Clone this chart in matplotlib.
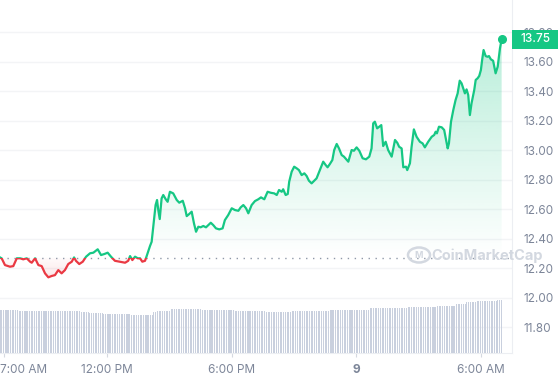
import numpy as np
import matplotlib
matplotlib.use("Agg")
import matplotlib.pyplot as plt
import matplotlib.transforms as mtransforms
from matplotlib.patches import Rectangle, Circle
from matplotlib.path import Path
from matplotlib.colors import to_rgb

plt.rcParams["font.family"] = ["Inter", "DejaVu Sans"]

# --- data: hours since 7:00 AM, price in USD ---
hours = [
    -0.17, -0.09, 0.07, 0.31, 0.47, 0.64, 0.80, 0.95, 1.12, 1.28,
    1.36, 1.52, 1.68, 1.84, 2.00, 2.16, 2.32, 2.48, 2.64, 2.80,
    2.96, 3.12, 3.29, 3.40, 3.49, 3.65, 3.82, 3.98, 4.17, 4.33,
    4.54, 4.70, 4.86, 5.02, 5.18, 5.37, 5.61, 5.86, 6.01, 6.10,
    6.21, 6.34, 6.47, 6.58, 6.69, 6.82, 6.90, 7.06, 7.14, 7.22,
    7.33, 7.40, 7.46, 7.53, 7.62, 7.70, 7.82, 7.91, 8.02, 8.18,
    8.35, 8.47, 8.64, 8.75, 8.83, 8.95, 9.07, 9.18, 9.28, 9.39,
    9.50, 9.63, 9.76, 9.87, 9.99, 10.11, 10.24, 10.40, 10.56, 10.67,
    10.83, 11.00, 11.16, 11.32, 11.43, 11.56, 11.69, 11.80, 11.96, 12.12,
    12.28, 12.41, 12.57, 12.73, 12.89, 13.05, 13.17, 13.28, 13.41, 13.48,
    13.60, 13.70, 13.77, 13.89, 14.01, 14.13, 14.24, 14.37, 14.50, 14.61,
    14.72, 14.85, 14.98, 15.09, 15.25, 15.41, 15.53, 15.62, 15.73, 15.85,
    15.94, 16.06, 16.17, 16.30, 16.41, 16.62, 16.78, 16.89, 17.02, 17.15,
    17.31, 17.47, 17.63, 17.74, 17.82, 17.90, 18.01, 18.11, 18.21, 18.30,
    18.42, 18.54, 18.71, 18.87, 18.98, 19.07, 19.19, 19.27, 19.40, 19.46,
    19.59, 19.67, 19.78, 19.91, 20.07, 20.20, 20.31, 20.47, 20.64, 20.76,
    20.83, 20.89, 20.99, 21.12, 21.24, 21.36, 21.41, 21.47, 21.57, 21.68,
    21.79, 21.89, 21.99, 22.08, 22.16, 22.24, 22.32, 22.40, 22.48, 22.56,
    22.69, 22.76, 22.85, 22.93, 23.01, 23.07, 23.14, 23.24, 23.33, 23.40,
    23.49, 23.60, 23.72, 23.82, 23.93, 24.01,
]
price = [
    12.272, 12.266, 12.220, 12.209, 12.213, 12.266, 12.266, 12.259, 12.266, 12.243,
    12.236, 12.266, 12.220, 12.213, 12.164, 12.137, 12.146, 12.152, 12.186, 12.164,
    12.186, 12.227, 12.243, 12.272, 12.249, 12.227, 12.243, 12.277, 12.300, 12.304,
    12.327, 12.288, 12.295, 12.304, 12.277, 12.249, 12.243, 12.236, 12.249, 12.281,
    12.254, 12.277, 12.266, 12.266, 12.243, 12.249, 12.281, 12.349, 12.378, 12.480,
    12.627, 12.661, 12.593, 12.532, 12.672, 12.695, 12.666, 12.649, 12.717, 12.706,
    12.661, 12.643, 12.656, 12.605, 12.552, 12.566, 12.582, 12.503, 12.446, 12.480,
    12.476, 12.485, 12.476, 12.491, 12.507, 12.491, 12.469, 12.462, 12.469, 12.525,
    12.559, 12.605, 12.593, 12.588, 12.611, 12.627, 12.605, 12.571, 12.627, 12.654,
    12.666, 12.679, 12.666, 12.717, 12.710, 12.706, 12.695, 12.729, 12.717, 12.734,
    12.695, 12.702, 12.785, 12.853, 12.887, 12.876, 12.864, 12.830, 12.842, 12.824,
    12.792, 12.774, 12.792, 12.808, 12.864, 12.921, 12.898, 12.883, 12.905, 12.932,
    13.000, 13.041, 13.011, 12.966, 12.955, 12.921, 13.000, 12.995, 13.018, 12.995,
    12.944, 12.937, 12.955, 13.011, 13.181, 13.192, 13.147, 13.158, 13.169, 13.027,
    13.056, 13.000, 12.955, 13.068, 13.049, 13.022, 13.011, 12.883, 12.887, 12.864,
    12.910, 13.022, 13.140, 13.090, 13.056, 13.045, 13.018, 13.056, 13.090, 13.102,
    13.124, 13.113, 13.158, 13.154, 13.136, 13.045, 13.011, 13.045, 13.192, 13.271,
    13.339, 13.384, 13.470, 13.452, 13.418, 13.384, 13.411, 13.373, 13.237, 13.317,
    13.407, 13.475, 13.486, 13.502, 13.542, 13.610, 13.678, 13.637, 13.632, 13.637,
    13.615, 13.605, 13.520, 13.565, 13.689, 13.752,
]
base_price = 12.27

# rolling volume (USD millions), stepwise levels and the hour each step ends
vol_ends = [0.68, 3.73, 4.12, 4.80, 6.10, 7.20, 7.40, 8.02, 9.57, 11.11, 12.65,
            13.86, 15.71, 17.66, 19.49, 20.89, 21.76, 22.27, 22.77, 23.78, 24.10]
vol_m = [215, 208, 205, 200, 195, 190, 203, 211, 220, 215, 208,
         205, 210, 215, 225, 230, 233, 243, 253, 258, 265]

tick_hours = [0, 5, 11, 17, 23]
tick_labels = ["7:00 AM", "12:00 PM", "6:00 PM", "9", "6:00 AM"]
y_ticks = [11.80, 12.00, 12.20, 12.40, 12.60, 12.80, 13.00, 13.20, 13.40, 13.60, 13.80]

GREEN = "#16c784"
RED = "#ea3943"
GRID = "#f3f4f6"
TXT = "#7d8699"
BAR = "#c9d0de"
EDGE = "#eceef2"
MARK = "#d3d8e0"

fig = plt.figure(figsize=(5.58, 3.80), dpi=100)
ax = fig.add_axes([0, 27 / 380, 512 / 558, 353 / 380])
xlim = (-0.17, 24.51)
ylim = (11.624, 14.017)

t = np.array(hours)
p = np.array(price)

# volume bars underneath
ax2 = ax.twinx()
bar_t = np.arange(-10 / 60, 24.0, 5 / 60)
idx = np.clip(np.searchsorted(vol_ends, bar_t), 0, len(vol_m) - 1)
ax2.bar(bar_t, np.array(vol_m)[idx], width=5 / 60 * 0.6, color=BAR, lw=0)
ax2.set_ylim(0, 1765)
ax2.set_xlim(*xlim)
ax2.axis("off")


def grad_fill(mask, color, y_lo, y_hi, a_lo, a_hi):
    poly = ax.fill_between(t, p, base_price, where=mask, interpolate=True,
                           color="none", lw=0)
    clip = Path.make_compound_path(*poly.get_paths())
    rgba = np.zeros((256, 1, 4))
    rgba[..., :3] = to_rgb(color)
    rgba[:, 0, 3] = np.linspace(a_hi, a_lo, 256)
    im = ax.imshow(rgba, extent=[xlim[0], xlim[1], y_lo, y_hi], aspect="auto",
                   origin="upper", zorder=1, interpolation="bilinear")
    im.set_clip_path(clip, transform=ax.transData)


grad_fill(p >= base_price, GREEN, base_price, p.max(), 0.0, 0.30)
grad_fill(p <= base_price, RED, p.min(), base_price, 0.12, 0.02)

# price line, green above baseline / red below
gl, = ax.plot(t, p, color=GREEN, lw=1.6, zorder=3, solid_joinstyle="round")
gl.set_clip_path(Rectangle((xlim[0], base_price), 30, 10, transform=ax.transData))
rl, = ax.plot(t, p, color=RED, lw=1.6, zorder=3, solid_joinstyle="round")
rl.set_clip_path(Rectangle((xlim[0], base_price - 10), 30, 10, transform=ax.transData))
ax.plot(t[-1], p[-1], "o", ms=5.5, color=GREEN, zorder=4)

ax.axhline(base_price, color="#8f98a8", lw=1.0, ls=(0, (1, 4)), zorder=2)

ax.set_xlim(*xlim)
ax.set_ylim(*ylim)
ax.set_yticks(y_ticks)
ax.set_yticklabels([f"{v:.2f}" for v in y_ticks])
ax.yaxis.tick_right()
ax.tick_params(axis="y", length=0, pad=8, labelsize=8.5, labelcolor=TXT)
ax.set_xticks(tick_hours)
ax.set_xticklabels(tick_labels)
ax.tick_params(axis="x", length=3, color="#d5d9e0", pad=5, labelsize=8.5, labelcolor=TXT)
xt = ax.get_xticklabels()
xt[0].set_horizontalalignment("left")
xt[0].set_transform(xt[0].get_transform() +
                    mtransforms.ScaledTranslation(-4 / 100, 0, fig.dpi_scale_trans))
xt[3].set_fontweight("bold")
ax.grid(axis="y", color=GRID, lw=1)
ax.set_axisbelow(True)
for s in ("left", "top"):
    ax.spines[s].set_visible(False)
ax.spines["right"].set_color(EDGE)
ax.spines["bottom"].set_color(EDGE)
ax.patch.set_alpha(0)

# current price tag
fig.add_artist(Rectangle((512 / 558, 1 - 49 / 380), 46 / 558, 19 / 380,
                         transform=fig.transFigure, color=GREEN, lw=0))
fig.text(535 / 558, 1 - 39.5 / 380, f"{p[-1]:.2f}", color="white", fontsize=8.5,
         ha="center", va="center", fontweight="medium")

# watermark
fig.add_artist(Circle((419 / 558, 1 - 255 / 380), 7.5 / 380, transform=fig.transFigure,
                      fill=False, ec=MARK, lw=1.8))
fig.text(419 / 558, 1 - 255.5 / 380, "M", color=MARK, fontsize=6.5, fontweight="bold",
         ha="center", va="center")
fig.text(431 / 558, 1 - 256 / 380, "CoinMarketCap", color=MARK, fontsize=10.5,
         fontweight="bold", ha="left", va="center")

fig.savefig("out.png", dpi=100)
